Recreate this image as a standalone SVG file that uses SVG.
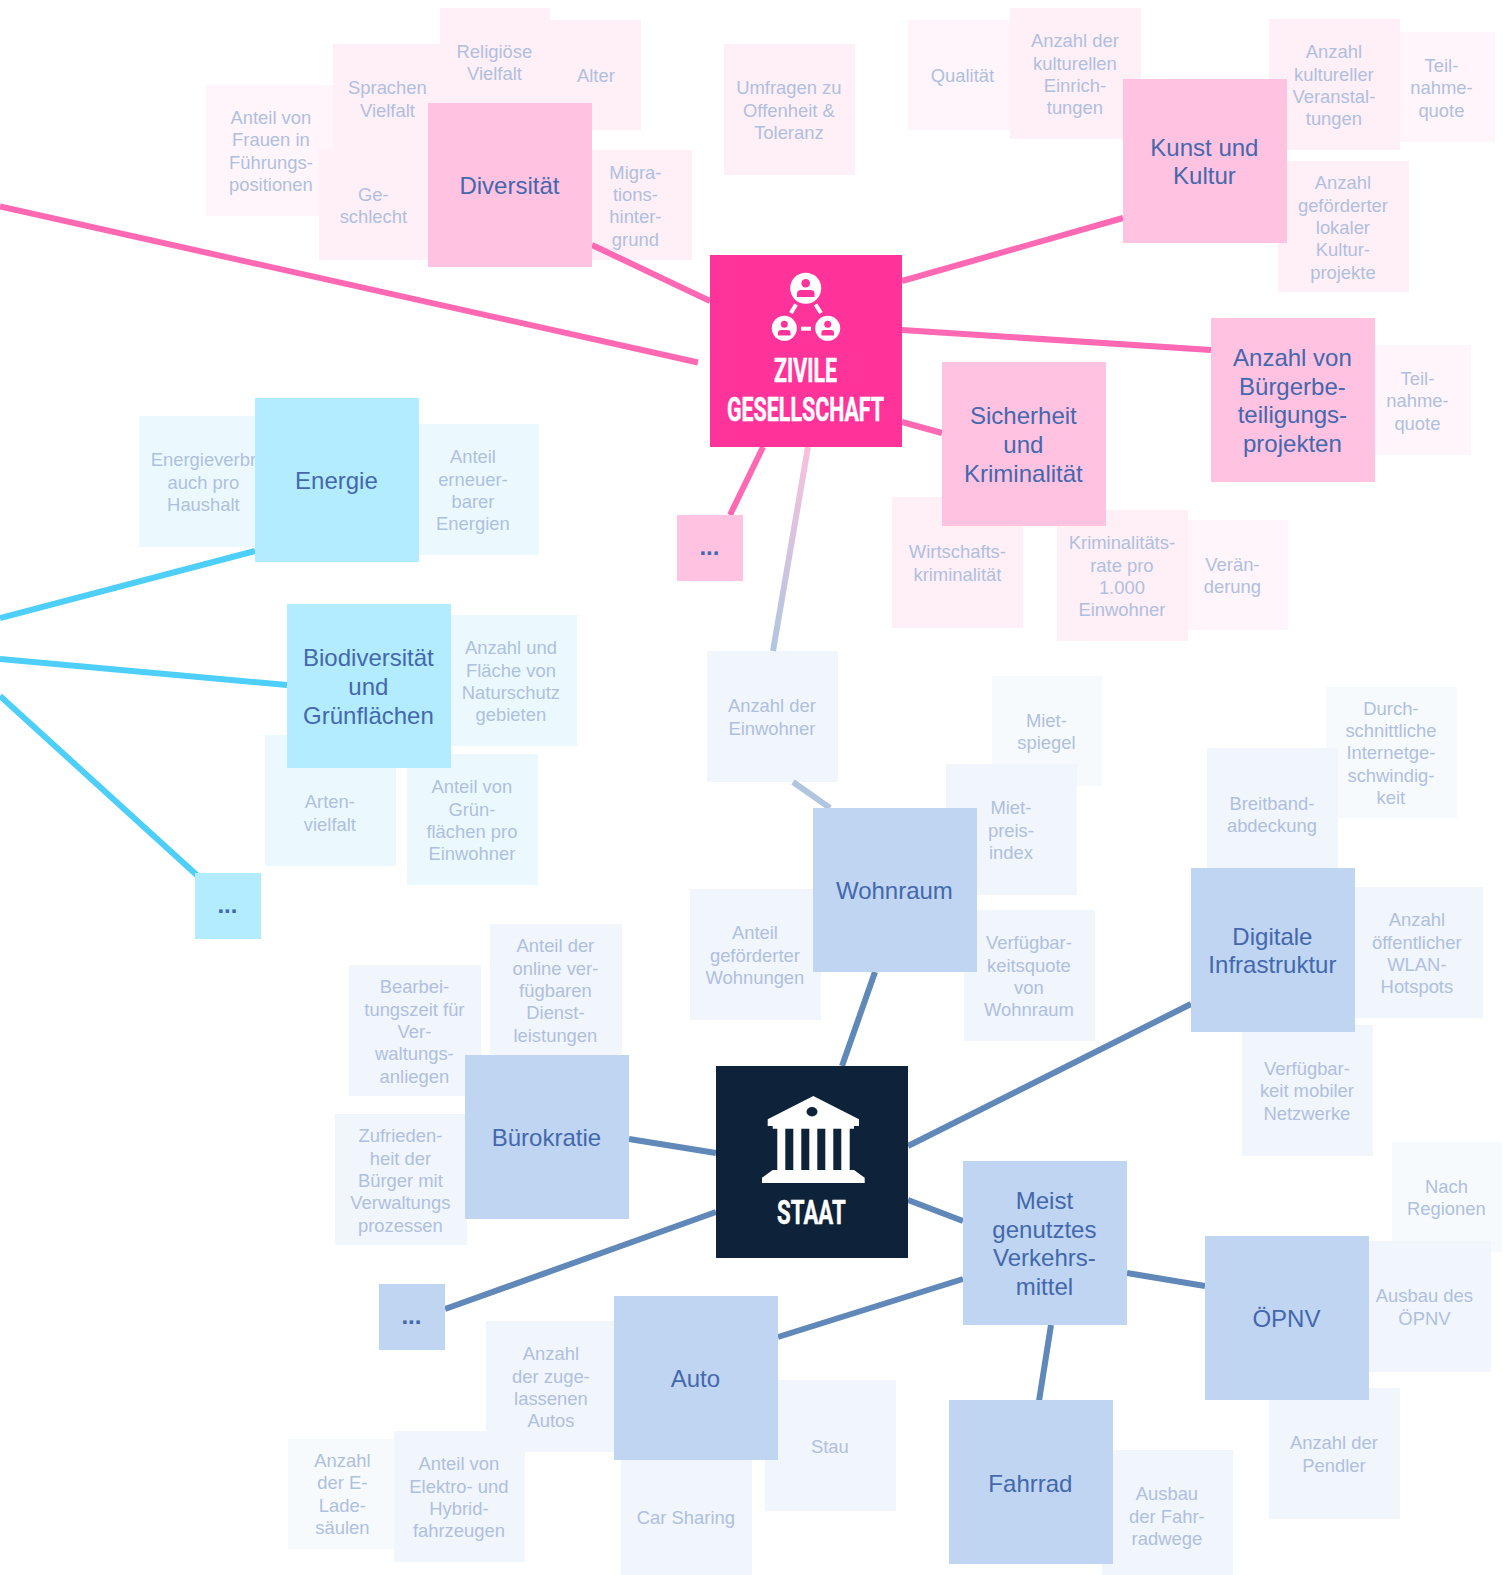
<svg xmlns="http://www.w3.org/2000/svg" width="1503" height="1575" viewBox="0 0 1503 1575">
<style>
text{font-family:"Liberation Sans",Arial,sans-serif;text-anchor:middle}
.leaf text{font-size:18.4px;fill:#afc0de;transform:translateX(-.6px)}
.big text{font-size:24px;fill:#4468ad;transform:translate(-.6px,.8px)}
.dots text{font-size:24px;font-weight:bold;fill:#4468ad;transform:translateX(-.6px)}
.hubt{font-family:"Roboto","Liberation Sans",sans-serif;font-weight:700;font-size:34px;fill:#fff;stroke:#fff;stroke-width:.5}
.l{fill:none;stroke-width:6;stroke-linecap:butt}
.lp{stroke:#ff69b4}.lc{stroke:#4dcffa}.ls{stroke:#6088b8}
.p1{fill:#ffc2e0}.p2{fill:#ffeff7}.p3{fill:#fff5fb}
.c1{fill:#b3ecff}.c2{fill:#ebf9ff}
.s1{fill:#bfd5f1}.s2{fill:#f1f5fc}.s3{fill:#f7fafd}
</style>
<defs>
<linearGradient id="grad" gradientUnits="userSpaceOnUse" x1="808" y1="447" x2="773" y2="651"><stop offset="0" stop-color="#f9c0de"/><stop offset="1" stop-color="#b0c6e0"/></linearGradient>
</defs>

<g id="leaves-back" class="leaf">
<g id="leaf-frauen"><rect class="p3" x="206" y="85" width="131" height="131"/><text y="124"><tspan x="271.5">Anteil von</tspan><tspan x="271.5" dy="22.4">Frauen in</tspan><tspan x="271.5" dy="22.4">Führungs-</tspan><tspan x="271.5" dy="22.4">positionen</tspan></text></g>
<g id="leaf-qualitaet"><rect class="p3" x="908" y="20" width="110" height="110"/><text x="963" y="81.8">Qualität</text></g>
<g id="leaf-teilnahme1"><rect class="p3" x="1385" y="32" width="110" height="110"/><text y="71.7"><tspan x="1442">Teil-</tspan><tspan x="1442" dy="22.4">nahme-</tspan><tspan x="1442" dy="22.4">quote</tspan></text></g>
<g id="leaf-teilnahme2"><rect class="p3" x="1361" y="345" width="110" height="110"/><text y="384.7"><tspan x="1418">Teil-</tspan><tspan x="1418" dy="22.4">nahme-</tspan><tspan x="1418" dy="22.4">quote</tspan></text></g>
<g id="leaf-veraenderung"><rect class="p3" x="1178" y="520" width="110" height="110"/><text y="570.8"><tspan x="1233">Verän-</tspan><tspan x="1233" dy="22.4">derung</tspan></text></g>
<g id="leaf-mietspiegel"><rect class="s3" x="992" y="676" width="110" height="110"/><text y="726.8"><tspan x="1047">Miet-</tspan><tspan x="1047" dy="22.4">spiegel</tspan></text></g>
<g id="leaf-nachregionen"><rect class="s3" x="1392" y="1142" width="110" height="110"/><text y="1192.8"><tspan x="1447">Nach</tspan><tspan x="1447" dy="22.4">Regionen</tspan></text></g>
<g id="leaf-elade"><rect class="s3" x="288" y="1439" width="110" height="110"/><text y="1467"><tspan x="343">Anzahl</tspan><tspan x="343" dy="22.4">der E-</tspan><tspan x="343" dy="22.4">Lade-</tspan><tspan x="343" dy="22.4">säulen</tspan></text></g>
<g id="leaf-durch"><rect class="s3" x="1326" y="687" width="131" height="131"/><text y="714.6"><tspan x="1391.5">Durch-</tspan><tspan x="1391.5" dy="22.4">schnittliche</tspan><tspan x="1391.5" dy="22.4">Internetge-</tspan><tspan x="1391.5" dy="22.4">schwindig-</tspan><tspan x="1391.5" dy="22.4">keit</tspan></text></g>
</g>

<g id="leaves" class="leaf">
<g id="leaf-alter"><rect class="p2" x="531" y="20" width="110" height="110"/><text x="596.5" y="81.8">Alter</text></g>
<g id="leaf-sprachen"><rect class="p2" x="333" y="44" width="110" height="110"/><text y="94.2"><tspan x="388">Sprachen</tspan><tspan x="388" dy="22.4">Vielfalt</tspan></text></g>
<g id="leaf-religioese"><rect class="p2" x="440" y="8" width="110" height="110"/><text y="58"><tspan x="495">Religiöse</tspan><tspan x="495" dy="22.4">Vielfalt</tspan></text></g>
<g id="leaf-geschlecht"><rect class="p2" x="319" y="150" width="110" height="110"/><text y="200.8"><tspan x="374">Ge-</tspan><tspan x="374" dy="22.4">schlecht</tspan></text></g>
<g id="leaf-migration"><rect class="p2" x="582" y="150" width="110" height="110"/><text y="178.5"><tspan x="636">Migra-</tspan><tspan x="636" dy="22.4">tions-</tspan><tspan x="636" dy="22.4">hinter-</tspan><tspan x="636" dy="22.4">grund</tspan></text></g>
<g id="leaf-umfragen"><rect class="p2" x="724" y="44" width="131" height="131"/><text y="94.2"><tspan x="789.5">Umfragen zu</tspan><tspan x="789.5" dy="22.4">Offenheit &amp;</tspan><tspan x="789.5" dy="22.4">Toleranz</tspan></text></g>
<g id="leaf-einrichtungen"><rect class="p2" x="1010" y="8" width="131" height="131"/><text y="47.2"><tspan x="1075.5">Anzahl der</tspan><tspan x="1075.5" dy="22.4">kulturellen</tspan><tspan x="1075.5" dy="22.4">Einrich-</tspan><tspan x="1075.5" dy="22.4">tungen</tspan></text></g>
<g id="leaf-veranstaltungen"><rect class="p2" x="1269" y="19" width="131" height="131"/><text y="58.2"><tspan x="1334.5">Anzahl</tspan><tspan x="1334.5" dy="22.4">kultureller</tspan><tspan x="1334.5" dy="22.4">Veranstal-</tspan><tspan x="1334.5" dy="22.4">tungen</tspan></text></g>
<g id="leaf-kulturprojekte"><rect class="p2" x="1278" y="161" width="131" height="131"/><text y="189.1"><tspan x="1343.5">Anzahl</tspan><tspan x="1343.5" dy="22.4">geförderter</tspan><tspan x="1343.5" dy="22.4">lokaler</tspan><tspan x="1343.5" dy="22.4">Kultur-</tspan><tspan x="1343.5" dy="22.4">projekte</tspan></text></g>
<g id="leaf-wirtschaft"><rect class="p2" x="892" y="497" width="131" height="131"/><text y="558.3"><tspan x="958">Wirtschafts-</tspan><tspan x="958" dy="22.4">kriminalität</tspan></text></g>
<g id="leaf-kriminalitaet"><rect class="p2" x="1057" y="510" width="131" height="131"/><text y="549.2"><tspan x="1122.5">Kriminalitäts-</tspan><tspan x="1122.5" dy="22.4">rate pro</tspan><tspan x="1122.5" dy="22.4">1.000</tspan><tspan x="1122.5" dy="22.4">Einwohner</tspan></text></g>

<g id="leaf-energieverbrauch"><rect class="c2" x="139" y="416" width="131" height="131"/><text y="466.2"><tspan x="204">Energieverbr</tspan><tspan x="204" dy="22.4">auch pro</tspan><tspan x="204" dy="22.4">Haushalt</tspan></text></g>
<g id="leaf-erneuerbar"><rect class="c2" x="408" y="424" width="131" height="131"/><text y="463.2"><tspan x="473.5">Anteil</tspan><tspan x="473.5" dy="22.4">erneuer-</tspan><tspan x="473.5" dy="22.4">barer</tspan><tspan x="473.5" dy="22.4">Energien</tspan></text></g>
<g id="leaf-naturschutz"><rect class="c2" x="446" y="615" width="131" height="131"/><text y="654.2"><tspan x="511.5">Anzahl und</tspan><tspan x="511.5" dy="22.4">Fläche von</tspan><tspan x="511.5" dy="22.4">Naturschutz</tspan><tspan x="511.5" dy="22.4">gebieten</tspan></text></g>
<g id="leaf-artenvielfalt"><rect class="c2" x="265" y="735" width="131" height="131"/><text y="808.3"><tspan x="330.5">Arten-</tspan><tspan x="330.5" dy="22.4">vielfalt</tspan></text></g>
<g id="leaf-gruenflaechen"><rect class="c2" x="407" y="754" width="131" height="131"/><text y="793.2"><tspan x="472.5">Anteil von</tspan><tspan x="472.5" dy="22.4">Grün-</tspan><tspan x="472.5" dy="22.4">flächen pro</tspan><tspan x="472.5" dy="22.4">Einwohner</tspan></text></g>

<g id="leaf-einwohner"><rect class="s2" x="707" y="651" width="131" height="131"/><text y="712.3"><tspan x="772.5">Anzahl der</tspan><tspan x="772.5" dy="22.4">Einwohner</tspan></text></g>
<g id="leaf-mietpreis"><rect class="s2" x="946" y="764" width="131" height="131"/><text y="814.2"><tspan x="1011.5">Miet-</tspan><tspan x="1011.5" dy="22.4">preis-</tspan><tspan x="1011.5" dy="22.4">index</tspan></text></g>
<g id="leaf-wohnungen"><rect class="s2" x="690" y="889" width="131" height="131"/><text y="939.2"><tspan x="755.5">Anteil</tspan><tspan x="755.5" dy="22.4">geförderter</tspan><tspan x="755.5" dy="22.4">Wohnungen</tspan></text></g>
<g id="leaf-verfuegbarkeit"><rect class="s2" x="964" y="910" width="131" height="131"/><text y="949.2"><tspan x="1029.5">Verfügbar-</tspan><tspan x="1029.5" dy="22.4">keitsquote</tspan><tspan x="1029.5" dy="22.4">von</tspan><tspan x="1029.5" dy="22.4">Wohnraum</tspan></text></g>
<g id="leaf-breitband"><rect class="s2" x="1207" y="748" width="131" height="131"/><text y="810"><tspan x="1272.5">Breitband-</tspan><tspan x="1272.5" dy="22.4">abdeckung</tspan></text></g>
<g id="leaf-wlan"><rect class="s2" x="1352" y="887" width="131" height="131"/><text y="926.2"><tspan x="1417.5">Anzahl</tspan><tspan x="1417.5" dy="22.4">öffentlicher</tspan><tspan x="1417.5" dy="22.4">WLAN-</tspan><tspan x="1417.5" dy="22.4">Hotspots</tspan></text></g>
<g id="leaf-mobil"><rect class="s2" x="1242" y="1025" width="131" height="131"/><text y="1075"><tspan x="1307.5">Verfügbar-</tspan><tspan x="1307.5" dy="22.4">keit mobiler</tspan><tspan x="1307.5" dy="22.4">Netzwerke</tspan></text></g>
<g id="leaf-online"><rect class="s2" x="490" y="924" width="132" height="131"/><text y="952.1"><tspan x="556">Anteil der</tspan><tspan x="556" dy="22.4">online ver-</tspan><tspan x="556" dy="22.4">fügbaren</tspan><tspan x="556" dy="22.4">Dienst-</tspan><tspan x="556" dy="22.4">leistungen</tspan></text></g>
<g id="leaf-bearbeitung"><rect class="s2" x="349" y="965" width="132" height="131"/><text y="993.1"><tspan x="415">Bearbei-</tspan><tspan x="415" dy="22.4">tungszeit für</tspan><tspan x="415" dy="22.4">Ver-</tspan><tspan x="415" dy="22.4">waltungs-</tspan><tspan x="415" dy="22.4">anliegen</tspan></text></g>
<g id="leaf-zufriedenheit"><rect class="s2" x="335" y="1114" width="132" height="131"/><text y="1142.1"><tspan x="401">Zufrieden-</tspan><tspan x="401" dy="22.4">heit der</tspan><tspan x="401" dy="22.4">Bürger mit</tspan><tspan x="401" dy="22.4">Verwaltungs</tspan><tspan x="401" dy="22.4">prozessen</tspan></text></g>
<g id="leaf-ausbauoepnv"><rect class="s2" x="1360" y="1241" width="131" height="131"/><text y="1302.3"><tspan x="1425">Ausbau des</tspan><tspan x="1425" dy="22.4">ÖPNV</tspan></text></g>
<g id="leaf-pendler"><rect class="s2" x="1269" y="1388" width="131" height="131"/><text y="1449.3"><tspan x="1334.5">Anzahl der</tspan><tspan x="1334.5" dy="22.4">Pendler</tspan></text></g>
<g id="leaf-radwege"><rect class="s2" x="1102" y="1450" width="131" height="131"/><text y="1500.2"><tspan x="1167.5">Ausbau</tspan><tspan x="1167.5" dy="22.4">der Fahr-</tspan><tspan x="1167.5" dy="22.4">radwege</tspan></text></g>
<g id="leaf-stau"><rect class="s2" x="765" y="1380" width="131" height="131"/><text x="830.5" y="1453">Stau</text></g>
<g id="leaf-carsharing"><rect class="s2" x="621" y="1452" width="131" height="131"/><text x="686.5" y="1523.5">Car Sharing</text></g>
<g id="leaf-zulassungen"><rect class="s2" x="486" y="1321" width="131" height="131"/><text y="1360.2"><tspan x="551.5">Anzahl</tspan><tspan x="551.5" dy="22.4">der zuge-</tspan><tspan x="551.5" dy="22.4">lassenen</tspan><tspan x="551.5" dy="22.4">Autos</tspan></text></g>
<g id="leaf-elektro"><rect class="s2" x="394" y="1431" width="131" height="131"/><text y="1470.2"><tspan x="459.5">Anteil von</tspan><tspan x="459.5" dy="22.4">Elektro- und</tspan><tspan x="459.5" dy="22.4">Hybrid-</tspan><tspan x="459.5" dy="22.4">fahrzeugen</tspan></text></g>
</g>

<g id="connectors">
<line class="l lp" x1="0" y1="206.5" x2="698" y2="362.5"/>
<line class="l lp" x1="592" y1="245" x2="710" y2="301"/>
<line class="l lp" x1="902" y1="281" x2="1123" y2="218"/>
<line class="l lp" x1="902" y1="330" x2="1211" y2="350"/>
<line class="l lp" x1="902" y1="422" x2="942" y2="433"/>
<line class="l lp" x1="763" y1="447" x2="730" y2="515"/>
<line class="l" stroke="url(#grad)" x1="808" y1="447" x2="773" y2="651"/>
<line class="l" stroke="#b0c5de" x1="793" y1="782" x2="830" y2="808"/>
<line class="l lc" x1="0" y1="618" x2="255" y2="551"/>
<line class="l lc" x1="0" y1="659" x2="287" y2="685"/>
<line class="l lc" x1="0" y1="696" x2="200" y2="878"/>
<line class="l ls" x1="875" y1="972" x2="842" y2="1066"/>
<line class="l ls" x1="908" y1="1146" x2="1191" y2="1004"/>
<line class="l ls" x1="629" y1="1139" x2="716" y2="1153"/>
<line class="l ls" x1="908" y1="1200" x2="963" y2="1221"/>
<line class="l ls" x1="716" y1="1212" x2="445" y2="1309"/>
<line class="l ls" x1="778" y1="1337" x2="963" y2="1279"/>
<line class="l ls" x1="1127" y1="1273" x2="1205" y2="1286"/>
<line class="l ls" x1="1051" y1="1325" x2="1039" y2="1401"/>
</g>

<g id="topics" class="big">
<g id="diversitaet"><rect class="p1" x="428" y="103" width="164" height="164"/><text x="510" y="193.3">Diversität</text></g>
<g id="kunst"><rect class="p1" x="1123" y="79" width="164" height="164"/><text y="154.9"><tspan x="1205">Kunst und</tspan><tspan x="1205" dy="28.8">Kultur</tspan></text></g>
<g id="buergerbeteiligung"><rect class="p1" x="1211" y="318" width="164" height="164"/><text y="365.1"><tspan x="1293">Anzahl von</tspan><tspan x="1293" dy="28.8">Bürgerbe-</tspan><tspan x="1293" dy="28.8">teiligungs-</tspan><tspan x="1293" dy="28.8">projekten</tspan></text></g>
<g id="sicherheit"><rect class="p1" x="942" y="362" width="164" height="164"/><text y="423.5"><tspan x="1024">Sicherheit</tspan><tspan x="1024" dy="28.8">und</tspan><tspan x="1024" dy="28.8">Kriminalität</tspan></text></g>
<g id="energie"><rect class="c1" x="255" y="398" width="164" height="164"/><text x="337" y="488.3">Energie</text></g>
<g id="biodiversitaet"><rect class="c1" x="287" y="604" width="164" height="164"/><text y="665.5"><tspan x="369">Biodiversität</tspan><tspan x="369" dy="28.8">und</tspan><tspan x="369" dy="28.8">Grünflächen</tspan></text></g>
<g id="wohnraum"><rect class="s1" x="813" y="808" width="164" height="164"/><text x="895" y="898.3">Wohnraum</text></g>
<g id="digital"><rect class="s1" x="1191" y="868" width="164" height="164"/><text y="943.9"><tspan x="1273">Digitale</tspan><tspan x="1273" dy="28.8">Infrastruktur</tspan></text></g>
<g id="buerokratie"><rect class="s1" x="465" y="1055" width="164" height="164"/><text x="547" y="1145.3">Bürokratie</text></g>
<g id="verkehrsmittel"><rect class="s1" x="963" y="1161" width="164" height="164"/><text y="1208.1"><tspan x="1045">Meist</tspan><tspan x="1045" dy="28.8">genutztes</tspan><tspan x="1045" dy="28.8">Verkehrs-</tspan><tspan x="1045" dy="28.8">mittel</tspan></text></g>
<g id="oepnv"><rect class="s1" x="1205" y="1236" width="164" height="164"/><text x="1287" y="1326.3">ÖPNV</text></g>
<g id="auto"><rect class="s1" x="614" y="1296" width="164" height="164"/><text x="696" y="1386.3">Auto</text></g>
<g id="fahrrad"><rect class="s1" x="949" y="1400" width="164" height="164"/><text x="1031" y="1491.3">Fahrrad</text></g>
</g>

<g id="more" class="dots">
<g id="more-pink"><rect class="p1" x="677" y="515" width="66" height="66"/><text x="710" y="554.7">...</text></g>
<g id="more-cyan"><rect class="c1" x="195" y="873" width="66" height="66"/><text x="228" y="912.7">...</text></g>
<g id="more-blue"><rect class="s1" x="379" y="1284" width="66" height="66"/><text x="412" y="1323.7">...</text></g>
</g>

<g id="hub-zivil">
<rect x="710" y="255" width="192" height="192" fill="#ff3399"/>
<circle cx="805.7" cy="288.3" r="15.5" fill="#fff"/>
<circle cx="784.3" cy="328.3" r="12.5" fill="#fff"/>
<circle cx="827.7" cy="328.3" r="12.5" fill="#fff"/>
<circle cx="805.7" cy="283.3" r="4.3" fill="#ff3399"/>
<path d="M797 297v-3.5q0-3.5 4-3.5h9.5q4 0 4 3.5v3.5z" fill="#ff3399"/>
<circle cx="784.3" cy="324.3" r="3.5" fill="#ff3399"/>
<path d="M778 335.5v-2.5q0-3 3-3h6.6q3 0 3 3v2.5z" fill="#ff3399"/>
<circle cx="827.7" cy="324.3" r="3.5" fill="#ff3399"/>
<path d="M821.4 335.5v-2.5q0-3 3-3h6.6q3 0 3 3v2.5z" fill="#ff3399"/>
<rect x="801" y="326.7" width="10" height="4" fill="#fff"/>
<line x1="796" y1="304.5" x2="791" y2="313" stroke="#fff" stroke-width="4"/>
<line x1="815.5" y1="304.5" x2="821" y2="313" stroke="#fff" stroke-width="4"/>
<text class="hubt" x="805.5" y="382" textLength="63" lengthAdjust="spacingAndGlyphs">ZIVILE</text>
<text class="hubt" x="805.5" y="421" textLength="157" lengthAdjust="spacingAndGlyphs">GESELLSCHAFT</text>
</g>

<g id="hub-staat">
<rect x="716" y="1066" width="192" height="192" fill="#0e2239"/>
<path d="M813.3 1096L859 1119.3V1126H854V1128.7H849.7V1170H854L864.7 1177.7V1183H762V1177.7L772.7 1170H777.3V1128.7H772.7V1126H767.7V1119.3Z" fill="#fff"/>
<path d="M785.3 1128.7h8v41.3h-8zM801.3 1128.7h8v41.3h-8zM817.3 1128.7h8v41.3h-8zM833.3 1128.7h8v41.3h-8z" fill="#0e2239"/>
<ellipse cx="812" cy="1111.7" rx="5.5" ry="4.7" fill="#0e2239"/>
<text class="hubt" x="811.4" y="1223.5" textLength="68.7" lengthAdjust="spacingAndGlyphs">STAAT</text>
</g>
</svg>
